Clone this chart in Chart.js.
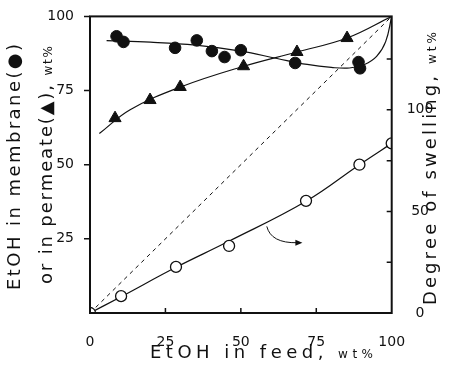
<!DOCTYPE html>
<html>
<head>
<meta charset="utf-8">
<script src="https://cdn.jsdelivr.net/npm/chart.js@4/dist/chart.umd.min.js"></script>
<style>
  html, body { margin: 0; padding: 0; background: #fff; }
</style>
</head>
<body>
<canvas id="myChart" width="455" height="373"></canvas>
<script>
// data block
const feedMembrane = [8.8, 11.1, 28.2, 35.4, 40.4, 44.6, 50, 68, 89, 89.5];
const membrane     = [93.3, 91.4, 89.4, 91.9, 88.3, 86.3, 88.6, 84.3, 84.6, 82.5];

const feedPermeate = [8.3, 19.9, 29.9, 50.9, 68.6, 85.2];
const permeate     = [65.7, 71.8, 76.2, 83.2, 88.0, 92.7];

const feedSwelling = [0, 10.3, 28.5, 46.1, 71.6, 89.3, 100];
const swelling     = [0, 8.3, 22.7, 33, 55.2, 73, 83.5];

// hand-drawn fit curves
const membraneFitX = [5.5, 20, 35, 50, 62, 72, 80, 86, 91, 95, 98, 100];
const membraneFitY = [91.8, 91.3, 90.3, 88.3, 85.8, 83.8, 82.8, 82.6, 83.8, 86.5, 91.5, 100];
const permeateFitX = [3.1, 13.3, 30, 51, 68.6, 85.2, 100];
const permeateFitY = [60.5, 68.5, 76.2, 83.2, 88, 92.7, 100];
const swellingFitX = [0, 10.3, 28.5, 46, 71.6, 89.3, 100];
const swellingFitY = [0, 8, 22.5, 35.3, 55, 73, 83.5];
const diagX = [0, 100];
const diagY = [0, 100];

// curved arrow pointing to the right axis (left-axis units)
const arrowX = [58.6, 60, 70.4];
const arrowY = [29.2, 23.5, 23.7];

// tick labels
const feedTicks = [0, 25, 50, 75, 100];
const leftTicks = [25, 50, 75, 100];
const rightTicks = [0, 25, 50, 75, 100, 125];
const rightLabels = [0, 50, 100];

const FONT = "'DejaVu Sans', sans-serif";
const INK = '#111';

const pts = (xs, ys) => xs.map((x, i) => ({x: x, y: ys[i]}));

// draws text along +x from origin, stretched to len
function drawSpaced(ctx, parts, len) {
    let n = 0, nat = 0;
    parts.forEach(p => {
        ctx.font = p.size + 'px ' + FONT;
        p.w = [];
        for (const ch of p.text) {
            const w = ctx.measureText(ch).width;
            p.w.push(w); nat += w; n++;
        }
    });
    const gap = (len - nat) / (n - 1);
    let x = 0;
    parts.forEach(p => {
        ctx.font = p.size + 'px ' + FONT;
        let i = 0;
        for (const ch of p.text) {
            ctx.fillText(ch, x, 0);
            x += p.w[i++] + gap;
        }
    });
}

// frame, ticks, titles, arrow
const decorations = {
    id: 'decorations',
    afterDraw(chart) {
        const {ctx, chartArea: {top, bottom, left, right}, scales: {x, y, y2}} = chart;
        ctx.save();
        ctx.strokeStyle = INK;
        ctx.fillStyle = INK;
        ctx.lineWidth = 2;
        ctx.strokeRect(left, top, right - left, bottom - top);

        ctx.lineWidth = 1.5;
        ctx.beginPath();
        leftTicks.forEach(v => {
            const py = y.getPixelForValue(v);
            ctx.moveTo(left - 6, py); ctx.lineTo(left, py);
        });
        feedTicks.slice(1, -1).forEach(v => {
            const px = x.getPixelForValue(v);
            ctx.moveTo(px, bottom); ctx.lineTo(px, bottom - 5);
        });
        rightTicks.slice(1).forEach(v => {
            const py = y2.getPixelForValue(v);
            ctx.moveTo(right, py); ctx.lineTo(right - 5, py);
        });
        ctx.stroke();

        // arrow
        const ax = arrowX.map(v => x.getPixelForValue(v));
        const ay = arrowY.map(v => y.getPixelForValue(v));
        ctx.lineWidth = 1;
        ctx.beginPath();
        ctx.moveTo(ax[0], ay[0]);
        ctx.quadraticCurveTo(ax[1], ay[1], ax[2] - 5, ay[2]);
        ctx.stroke();
        ctx.beginPath();
        ctx.moveTo(ax[2], ay[2]);
        ctx.lineTo(ax[2] - 7, ay[2] - 3);
        ctx.lineTo(ax[2] - 7, ay[2] + 3);
        ctx.closePath();
        ctx.fill();

        // titles
        ctx.textBaseline = 'alphabetic';
        ctx.textAlign = 'left';
        ctx.save();
        ctx.translate(150, 358);
        drawSpaced(ctx, [{text: 'EtOH in feed, ', size: 18}, {text: 'wt%', size: 12}], 223);
        ctx.restore();

        ctx.save();
        ctx.translate(20, 290);
        ctx.rotate(-Math.PI / 2);
        drawSpaced(ctx, [{text: 'EtOH in membrane(●)', size: 18}], 246);
        ctx.restore();

        ctx.save();
        ctx.translate(52, 284);
        ctx.rotate(-Math.PI / 2);
        drawSpaced(ctx, [{text: 'or in permeate(▲), ', size: 18}, {text: 'wt%', size: 12}], 238);
        ctx.restore();

        ctx.save();
        ctx.translate(436, 305);
        ctx.rotate(-Math.PI / 2);
        drawSpaced(ctx, [{text: 'Degree of swelling, ', size: 18}, {text: 'wt%', size: 12}], 273);
        ctx.restore();

        ctx.restore();
    }
};

const fitLine = (xs, ys, axis) => ({
    data: pts(xs, ys),
    yAxisID: axis,
    showLine: true,
    borderColor: INK,
    borderWidth: 1.2,
    pointRadius: 0,
    tension: 0.4,
    fill: false
});

const tickFont = {family: FONT, size: 14};

// config block
const config = {
    type: 'scatter',
    data: {
        datasets: [
            {
                data: pts(feedSwelling, swelling),
                yAxisID: 'y2',
                pointStyle: 'circle',
                pointRadius: 5.5,
                pointBackgroundColor: '#fff',
                pointBorderColor: INK,
                pointBorderWidth: 1.3
            },
            {
                data: pts(feedMembrane, membrane),
                yAxisID: 'y',
                pointStyle: 'circle',
                pointRadius: 5.8,
                pointBackgroundColor: INK,
                pointBorderColor: INK,
                pointBorderWidth: 1
            },
            {
                data: pts(feedPermeate, permeate),
                yAxisID: 'y',
                pointStyle: 'triangle',
                pointRadius: 7,
                pointBackgroundColor: INK,
                pointBorderColor: INK,
                pointBorderWidth: 1
            },
            fitLine(membraneFitX, membraneFitY, 'y'),
            fitLine(permeateFitX, permeateFitY, 'y'),
            fitLine(swellingFitX, swellingFitY, 'y2'),
            Object.assign(fitLine(diagX, diagY, 'y'), {borderWidth: 1, borderDash: [4, 4], tension: 0})
        ]
    },
    options: {
        responsive: false,
        animation: false,
        layout: {padding: {top: 15, left: 0, right: 0, bottom: 0}},
        plugins: {
            legend: {display: false},
            tooltip: {enabled: false}
        },
        scales: {
            x: {
                type: 'linear', min: 0, max: 100,
                afterBuildTicks: s => { s.ticks = feedTicks.map(v => ({value: v})); },
                afterFit: s => { s.height = 60; },
                grid: {display: false},
                border: {display: false},
                ticks: {padding: 13, color: INK, font: tickFont, maxRotation: 0}
            },
            y: {
                type: 'linear', position: 'left', min: 0, max: 100,
                afterBuildTicks: s => { s.ticks = leftTicks.map(v => ({value: v})); },
                afterFit: s => { s.width = 90; },
                grid: {display: false},
                border: {display: false},
                ticks: {padding: 8, color: INK, font: tickFont}
            },
            y2: {
                type: 'linear', position: 'right', min: 0, max: 146,
                afterBuildTicks: s => { s.ticks = rightLabels.map(v => ({value: v})); },
                afterFit: s => { s.width = 63.3; },
                grid: {display: false},
                border: {display: false},
                ticks: {padding: 7, color: INK, font: tickFont, crossAlign: 'center'}
            }
        }
    },
    plugins: [decorations]
};

// init render block
const myChart = new Chart(document.getElementById('myChart'), config);
</script>
</body>
</html>
